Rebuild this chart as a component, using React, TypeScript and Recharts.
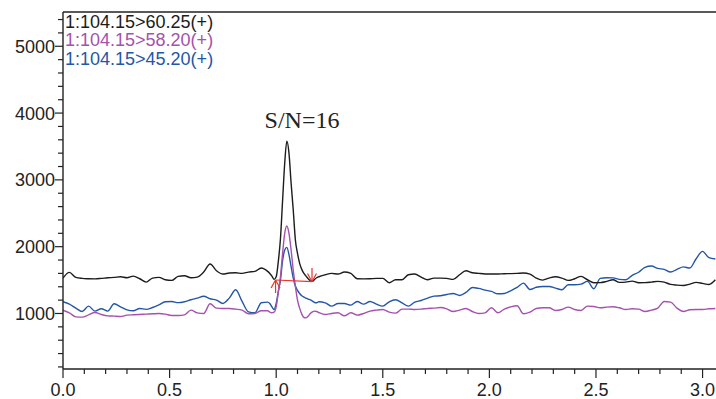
import React from "react";
import { LineChart, Line, XAxis, YAxis, ReferenceLine, ReferenceDot } from "recharts";

// retention time (min)
const times = [
  0, 0.03, 0.06, 0.09, 0.12, 0.15, 0.18, 0.21, 0.24, 0.27, 0.3, 0.33, 0.36, 0.39, 0.42, 0.45,
  0.48, 0.51, 0.54, 0.57, 0.6, 0.63, 0.66, 0.69, 0.72, 0.75, 0.78, 0.81, 0.84, 0.87, 0.9, 0.93, 0.96,
  0.97, 0.98, 0.99, 1.0, 1.01, 1.02, 1.03, 1.04, 1.05, 1.06, 1.07, 1.08, 1.09, 1.1, 1.11, 1.12,
  1.13, 1.14, 1.15, 1.16, 1.17, 1.18, 1.19, 1.2,
  1.23, 1.26, 1.29, 1.32, 1.35, 1.38, 1.41, 1.44, 1.47, 1.5, 1.53, 1.56, 1.59, 1.62, 1.65, 1.68,
  1.71, 1.74, 1.77, 1.8, 1.83, 1.86, 1.89, 1.92, 1.95, 1.98, 2.01, 2.04, 2.07, 2.1, 2.13, 2.16,
  2.19, 2.22, 2.25, 2.28, 2.31, 2.34, 2.37, 2.4, 2.43, 2.46, 2.49, 2.52, 2.55, 2.58, 2.61, 2.64,
  2.67, 2.7, 2.73, 2.76, 2.79, 2.82, 2.85, 2.88, 2.91, 2.94, 2.97, 3.0, 3.03, 3.06,
];

// 1:104.15>60.25(+)
const trace6025 = [
  1530, 1615, 1540, 1525, 1520, 1518, 1525, 1535, 1540, 1550, 1535, 1560, 1520, 1470, 1530, 1540,
  1505, 1495, 1555, 1565, 1535, 1545, 1620, 1740, 1640, 1590, 1605, 1610, 1600, 1620, 1630, 1680, 1630,
  1600, 1560, 1510, 1550, 1780, 2120, 2690, 3250, 3580, 3400, 2950, 2550, 2100, 1900, 1750, 1660,
  1600, 1560, 1520, 1490, 1480, 1510, 1535, 1550,
  1580, 1600, 1590, 1620, 1600, 1520, 1518, 1520, 1525, 1525, 1460, 1505, 1505, 1580, 1590, 1545,
  1505, 1530, 1530, 1525, 1510, 1580, 1640, 1610, 1600, 1592, 1590, 1592, 1595, 1597, 1600, 1605,
  1590, 1530, 1500, 1530, 1550, 1530, 1495, 1520, 1555, 1505, 1460, 1462, 1480, 1505, 1465, 1470,
  1485, 1460, 1462, 1470, 1480, 1470, 1435, 1425, 1420, 1440, 1465, 1450, 1435, 1505,
];

// 1:104.15>58.20(+)
const trace5820 = [
  1050, 1010, 950, 945, 980, 1015, 985, 965, 960, 955, 975, 980, 985, 990, 995, 1000,
  990, 970, 970, 980, 1050, 1010, 1000, 1145, 1080, 1075, 1075, 1065, 1050, 995, 1000, 1040, 1040,
  1020, 1010, 1020, 1100, 1320, 1550, 1900, 2200, 2310, 2200, 1950, 1650, 1410, 1200, 1080, 990,
  940, 935, 960, 1000, 1025, 1035, 1030, 1015,
  985, 1000, 1010, 965, 1010, 975, 1000, 1035, 1050, 1060, 1020, 1005, 1065, 1065, 1060, 1065,
  1075, 1080, 1090, 1070, 1030, 1050, 1075, 1030, 1000, 1010, 1085, 1010, 1065, 1100, 1115, 995,
  1020, 1075, 1085, 1085, 1045, 1060, 1095, 1060, 1045, 1110, 1105, 1085, 1095, 1100, 1085, 1060,
  1070, 1065, 1030, 1050, 1080, 1180, 1170, 1080, 1030, 1055, 1060, 1060, 1070, 1075,
];

// 1:104.15>45.20(+)
const trace4520 = [
  1175, 1140, 1080, 1030, 1110, 1035, 1070, 1035, 1145, 1100, 1055, 1040, 1075, 1062, 1090, 1130,
  1175, 1180, 1162, 1175, 1205, 1230, 1258, 1220, 1200, 1150, 1230, 1355, 1180, 1025, 1010, 1160, 1170,
  1150, 1100, 1060, 1150, 1330, 1500, 1790, 1950, 1990, 1880, 1700, 1530, 1410, 1345, 1300, 1265,
  1245, 1230, 1215, 1205, 1185, 1165, 1160, 1175,
  1160, 1110, 1150, 1150, 1125, 1180, 1140, 1180, 1140, 1110, 1175, 1205, 1160, 1110, 1170, 1195,
  1230, 1260, 1265, 1285, 1300, 1270, 1315, 1390, 1375, 1350, 1330, 1295, 1300, 1340, 1390, 1455,
  1360, 1393, 1405, 1405, 1380, 1355, 1430, 1430, 1440, 1480, 1370, 1525, 1535, 1533, 1510, 1505,
  1570, 1617, 1690, 1710, 1675, 1660, 1620, 1660, 1697, 1680, 1820, 1930, 1835, 1816,
];

const xTicks = [
  0, 0.1, 0.2, 0.3, 0.4, 0.5, 0.6, 0.7, 0.8, 0.9, 1.0, 1.1, 1.2, 1.3, 1.4, 1.5,
  1.6, 1.7, 1.8, 1.9, 2.0, 2.1, 2.2, 2.3, 2.4, 2.5, 2.6, 2.7, 2.8, 2.9, 3.0,
];
const xLabels = [0, 0.5, 1.0, 1.5, 2.0, 2.5, 3.0];
const yTicks = [
  200, 400, 600, 800, 1000, 1200, 1400, 1600, 1800, 2000, 2200, 2400, 2600, 2800,
  3000, 3200, 3400, 3600, 3800, 4000, 4200, 4400, 4600, 4800, 5000, 5200, 5400,
];
const yLabels = [1000, 2000, 3000, 4000, 5000];
const xDomain = [0, 3.063];
const yDomain = [169, 5513];

const legendItems = [
  { name: "1:104.15>60.25(+)", color: "#1c1c1c" },
  { name: "1:104.15>58.20(+)", color: "#a452ad" },
  { name: "1:104.15>45.20(+)", color: "#2456a8" },
];

// peak annotation (S/N and integration baseline)
const snText = "S/N=16";
const snPos = { x: 1.121, y: 3897 };
const baseline = [{ x: 0.997, y: 1501 }, { x: 1.168, y: 1476 }];
const leftMark = { top: { x: 0.997, y: 1501 }, bottom: { x: 0.997, y: 1307 }, wingL: { x: 0.976, y: 1382 }, wingR: { x: 1.018, y: 1382 } };
const rightMark = { top: { x: 1.168, y: 1681 }, bottom: { x: 1.168, y: 1476 }, wingL: { x: 1.147, y: 1599 }, wingR: { x: 1.189, y: 1599 } };

const data = times.map((t, i) => ({
  t,
  a: trace6025[i],
  b: trace5820[i],
  c: trace4520[i],
}));

const axisColor = "#222";
const font = "'Liberation Sans', Arial, sans-serif";
const red = "#e8342c";

const XTick = (props: any) => {
  const { x, y, payload } = props;
  const v = payload.value;
  const major = xLabels.some((l) => Math.abs(l - v) < 1e-6);
  return (
    <g>
      <line x1={x} x2={x} y1={y} y2={y + (major ? 9 : 5)} stroke={axisColor} strokeWidth={1.2} />
      {major && (
        <text x={x} y={y + 27} textAnchor="middle" fontSize={18} fontFamily={font} fill={axisColor}>
          {v.toFixed(1)}
        </text>
      )}
    </g>
  );
};

const YTick = (props: any) => {
  const { x, y, payload } = props;
  const v = payload.value;
  const major = yLabels.includes(v);
  return (
    <g>
      <line x1={x - (major ? 8 : 5)} x2={x} y1={y} y2={y} stroke={axisColor} strokeWidth={1.2} />
      {major && (
        <text x={x - 8} y={y} dy="0.36em" textAnchor="end" fontSize={18} fontFamily={font} fill={axisColor}>
          {v}
        </text>
      )}
    </g>
  );
};

const seg = (p: { x: number; y: number }, q: { x: number; y: number }) => [
  { x: p.x, y: p.y },
  { x: q.x, y: q.y },
];

export default function App() {
  return (
    <div style={{ position: "absolute", left: 0, top: 0, width: 716, height: 399, background: "#fff" }}>
      <LineChart width={716} height={399} data={data} margin={{ top: 12, right: 0, bottom: 0, left: 0 }}>
        <XAxis
          type="number"
          dataKey="t"
          domain={xDomain}
          ticks={xTicks}
          interval={0}
          allowDataOverflow
          height={30}
          tickSize={0}
          tickMargin={0}
          tickLine={false}
          tick={<XTick />}
          axisLine={{ stroke: axisColor, strokeWidth: 1.4 }}
        />
        <YAxis
          type="number"
          domain={yDomain}
          ticks={yTicks}
          interval={0}
          allowDataOverflow
          width={63}
          tickSize={0}
          tickMargin={0}
          tickLine={false}
          tick={<YTick />}
          axisLine={{ stroke: axisColor, strokeWidth: 1.4 }}
        />
        <ReferenceLine y={yDomain[1]} stroke={axisColor} strokeWidth={1.4} />
        <Line type="monotone" dataKey="c" stroke="#2456a8" strokeWidth={1.4} dot={false} activeDot={false} isAnimationActive={false} />
        <Line type="monotone" dataKey="b" stroke="#a452ad" strokeWidth={1.4} dot={false} activeDot={false} isAnimationActive={false} />
        <Line type="monotone" dataKey="a" stroke="#1c1c1c" strokeWidth={1.4} dot={false} activeDot={false} isAnimationActive={false} />
        <ReferenceLine segment={baseline} stroke={red} strokeWidth={1.2} />
        <ReferenceLine segment={seg(leftMark.top, leftMark.bottom)} stroke={red} strokeWidth={1.2} />
        <ReferenceLine segment={seg(leftMark.top, leftMark.wingL)} stroke={red} strokeWidth={1.2} />
        <ReferenceLine segment={seg(leftMark.top, leftMark.wingR)} stroke={red} strokeWidth={1.2} />
        <ReferenceLine segment={seg(rightMark.top, rightMark.bottom)} stroke={red} strokeWidth={1.2} />
        <ReferenceLine segment={seg(rightMark.bottom, rightMark.wingL)} stroke={red} strokeWidth={1.2} />
        <ReferenceLine segment={seg(rightMark.bottom, rightMark.wingR)} stroke={red} strokeWidth={1.2} />
        <ReferenceDot
          x={snPos.x}
          y={snPos.y}
          r={0}
          fill="none"
          stroke="none"
          label={{
            value: snText,
            position: "center",
            fontSize: 24,
            fontFamily: "'Liberation Serif', 'Times New Roman', serif",
            fill: "#222",
          }}
        />
      </LineChart>
      <div
        style={{
          position: "absolute",
          left: 65,
          top: 12.5,
          fontFamily: font,
          fontSize: 18,
          lineHeight: "18.5px",
          whiteSpace: "nowrap",
        }}
      >
        {legendItems.map((it) => (
          <div key={it.name} style={{ color: it.color }}>
            {it.name}
          </div>
        ))}
      </div>
    </div>
  );
}
